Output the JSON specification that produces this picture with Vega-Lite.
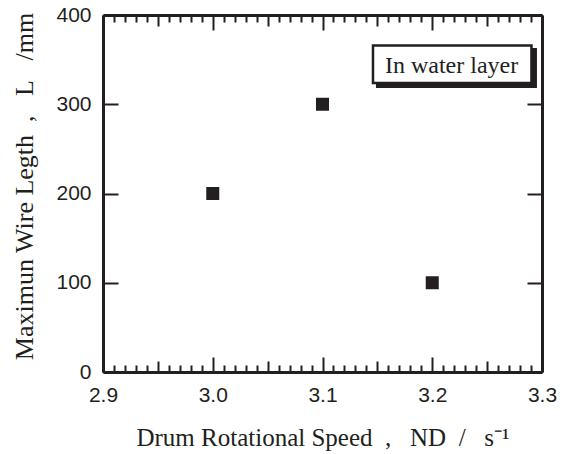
{
  "$schema": "https://vega.github.io/schema/vega-lite/v6.json",
  "width": 439,
  "height": 357,
  "autosize": "none",
  "padding": {"left": 103, "top": 15, "right": 22, "bottom": 82},
  "background": "white",
  "config": {
    "view": {"stroke": null},
    "axis": {
      "grid": false,
      "domainColor": "#231f20",
      "domainWidth": 3,
      "tickColor": "#231f20",
      "tickWidth": 2,
      "labelFont": "Liberation Sans",
      "labelFontSize": 21,
      "labelColor": "#231f20",
      "titleFont": "Liberation Serif",
      "titleFontWeight": "normal",
      "titleColor": "#231f20",
      "labelOverlap": false,
      "labelFlush": false
    }
  },
  "data": {
    "values": [
      {"speed": 3.0, "length": 200},
      {"speed": 3.1, "length": 300},
      {"speed": 3.2, "length": 100}
    ]
  },
  "layer": [
    {
      "mark": {"type": "square", "size": 169, "color": "#231f20", "opacity": 1},
      "encoding": {
        "x": {
          "field": "speed",
          "type": "quantitative",
          "scale": {"domain": [2.9, 3.3], "nice": false, "zero": false},
          "axis": {
            "orient": "bottom",
            "values": [2.9,2.91,2.92,2.93,2.94,2.95,2.96,2.97,2.98,2.99,3.0,3.01,3.02,3.03,3.04,3.05,3.06,3.07,3.08,3.09,3.1,3.11,3.12,3.13,3.14,3.15,3.16,3.17,3.18,3.19,3.2,3.21,3.22,3.23,3.24,3.25,3.26,3.27,3.28,3.29,3.3],
            "labelExpr": "abs(datum.value*10 - round(datum.value*10)) < 0.000001 ? format(datum.value, '.1f') : ''",
            "tickSize": {
              "condition": [
                {"test": "abs(datum.value*10 - round(datum.value*10)) < 0.000001", "value": -15},
                {"test": "abs(datum.value*20 - round(datum.value*20)) < 0.000001", "value": -11}
              ],
              "value": -7
            },
            "labelPadding": 27,
            "title": "Drum Rotational Speed\u00a0\u00a0,\u00a0\u00a0\u00a0ND\u00a0\u00a0/\u00a0\u00a0\u00a0s\u207b\u00b9",
            "titleFontSize": 25,
            "titleY": 73,
            "titleBaseline": "alphabetic"
          }
        },
        "y": {
          "field": "length",
          "type": "quantitative",
          "scale": {"domain": [0, 400], "nice": false},
          "axis": {
            "orient": "left",
            "values": [0, 100, 200, 300, 400],
            "tickSize": -15,
            "labelPadding": 27,
            "title": "Maximun Wire Legth\u00a0\u00a0,\u00a0\u00a0\u00a0L\u00a0\u00a0\u00a0/mm",
            "titleFontSize": 26,
            "titleX": -71,
            "titleY": 171,
            "titleBaseline": "alphabetic"
          }
        }
      }
    },
    {
      "mark": {"type": "point", "opacity": 0},
      "encoding": {
        "x": {
          "field": "speed",
          "type": "quantitative",
          "axis": {
            "orient": "top",
            "values": [2.9,2.91,2.92,2.93,2.94,2.95,2.96,2.97,2.98,2.99,3.0,3.01,3.02,3.03,3.04,3.05,3.06,3.07,3.08,3.09,3.1,3.11,3.12,3.13,3.14,3.15,3.16,3.17,3.18,3.19,3.2,3.21,3.22,3.23,3.24,3.25,3.26,3.27,3.28,3.29,3.3],
            "labels": false,
            "title": null,
            "tickSize": {
              "condition": [
                {"test": "abs(datum.value*10 - round(datum.value*10)) < 0.000001", "value": -15},
                {"test": "abs(datum.value*20 - round(datum.value*20)) < 0.000001", "value": -11}
              ],
              "value": -7
            }
          }
        },
        "y": {
          "field": "length",
          "type": "quantitative",
          "axis": {
            "orient": "right",
            "values": [0, 100, 200, 300, 400],
            "labels": false,
            "title": null,
            "tickSize": -15
          }
        }
      }
    },
    {
      "data": {"values": [{"label": "In water layer"}]},
      "mark": {"type": "rect", "fill": "#231f20"},
      "encoding": {
        "x": {"datum": 3.1487, "type": "quantitative", "axis": null},
        "x2": {"datum": 3.2954},
        "y": {"datum": 363.0, "type": "quantitative", "axis": null},
        "y2": {"datum": 318.2}
      }
    },
    {
      "data": {"values": [{"label": "In water layer"}]},
      "mark": {"type": "rect", "fill": "white", "stroke": "#231f20", "strokeWidth": 2.5},
      "encoding": {
        "x": {"datum": 3.146, "type": "quantitative", "axis": null},
        "x2": {"datum": 3.2904},
        "y": {"datum": 365.8, "type": "quantitative", "axis": null},
        "y2": {"datum": 323.8}
      }
    },
    {
      "data": {"values": [{"label": "In water layer"}]},
      "mark": {"type": "text", "align": "left", "baseline": "alphabetic", "font": "Liberation Serif", "fontSize": 24, "color": "#231f20"},
      "encoding": {
        "x": {"datum": 3.1569, "type": "quantitative", "axis": null},
        "y": {"datum": 335, "type": "quantitative", "axis": null},
        "text": {"field": "label"}
      }
    }
  ],
  "resolve": {"axis": {"x": "independent", "y": "independent"}}
}
